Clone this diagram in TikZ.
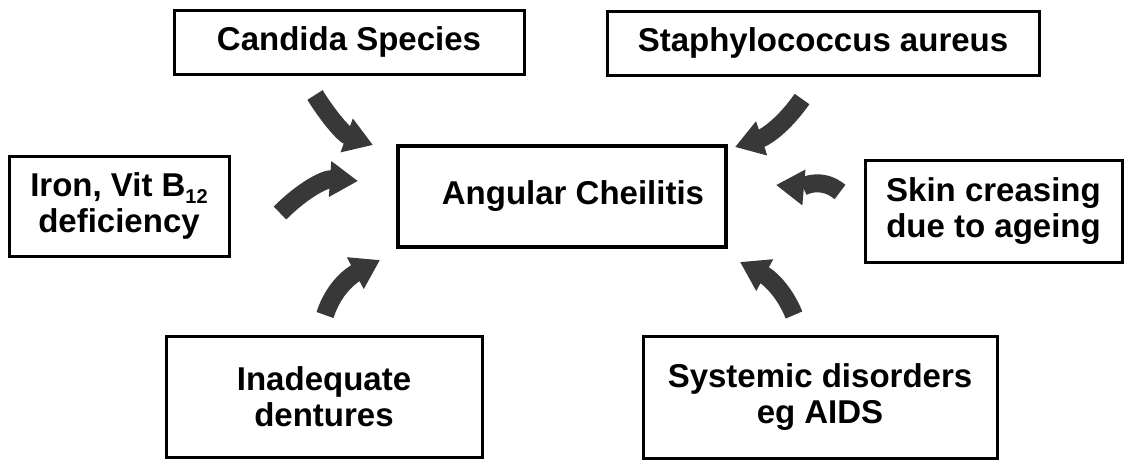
\documentclass[tikz,border=0pt]{standalone}
\usepackage{fontspec}
\setmainfont{Liberation Sans}
\usetikzlibrary{arrows.meta}
\begin{document}
\begin{tikzpicture}[x=1pt,y=1pt,
  box/.style={draw=black, line width=3pt, rectangle, inner sep=0pt, outer sep=0pt,
    align=center, font=\fontsize{33}{36}\selectfont\bfseries, text=black},
  bigarrow/.style={draw=black!78, line width=18pt, -{Triangle[length=28pt,width=34pt]}}]
\useasboundingbox (0,0) rectangle (1131,-461);
\fill[white] (0,0) rectangle (1131,-461);
% boxes
\node[box, minimum width=350pt, minimum height=64pt] (candida) at (349,-42) {Candida Species};
\node[box, minimum width=432pt, minimum height=64pt] (staph) at (823,-43) {Staphylococcus aureus};
\node[box, line width=4.5pt, minimum width=328pt, minimum height=101pt] (ac) at (562,-196.5) {\hspace*{22pt}Angular Cheilitis};
\node[box, minimum width=220pt, minimum height=100pt] (iron) at (119,-206) {Iron, Vit B\raisebox{-7pt}{\fontsize{20}{20}\selectfont 12}\\deficiency};
\node[box, minimum width=257pt, minimum height=102pt] (skin) at (993.5,-211) {Skin creasing\\due to ageing};
\node[box, minimum width=316pt, minimum height=121pt] (dent) at (324,-396.5) {Inadequate\\dentures};
\node[box, minimum width=354pt, minimum height=122pt] (sys) at (820,-397) {Systemic disorders\\eg AIDS};
% arrow ends
\coordinate (candidaTail) at (315,-95);
\coordinate (candidaTip) at (373,-145);
\coordinate (ironTail) at (280,-213);
\coordinate (ironTip) at (358,-181);
\coordinate (dentTail) at (325,-315);
\coordinate (dentTip) at (380,-260);
\coordinate (staphTail) at (802,-99);
\coordinate (staphTip) at (735,-147);
\coordinate (skinTail) at (840,-192);
\coordinate (skinTip) at (776,-185);
\coordinate (sysTail) at (794,-315);
\coordinate (sysTip) at (740,-262);
% arrows
\draw[bigarrow] (candidaTail) to[out=-58,in=160] (candidaTip);
\draw[bigarrow] (ironTail) to[out=45,in=176] (ironTip);
\draw[bigarrow] (dentTail) to[out=72,in=208] (dentTip);
\draw[bigarrow] (staphTail) to[out=-125,in=18] (staphTip);
\draw[bigarrow] (skinTail) to[out=140,in=-5] (skinTip);
\draw[bigarrow] (sysTail) to[out=112,in=-28] (sysTip);
\end{tikzpicture}
\end{document}
